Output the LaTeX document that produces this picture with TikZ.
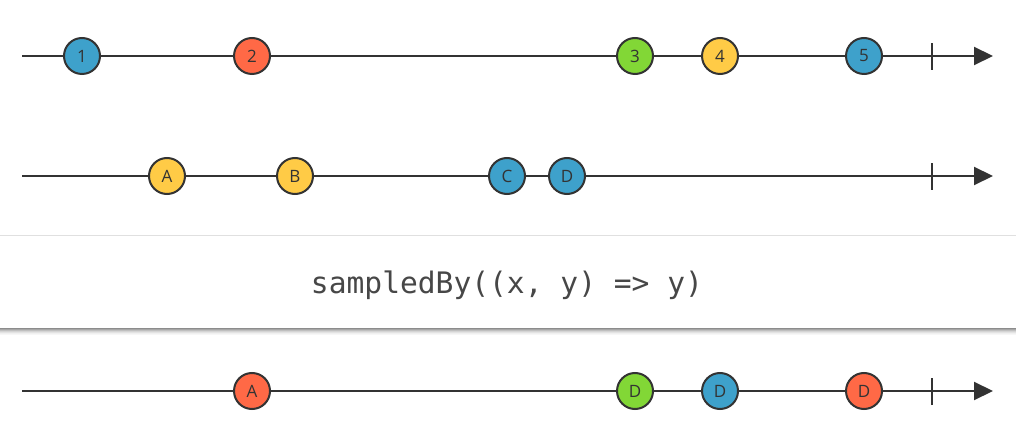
\documentclass[tikz,border=0pt]{standalone}
\usepackage{fontspec}
\setmainfont{Open Sans}
\newfontfamily\codefont{DejaVu Sans Mono}
\usetikzlibrary{arrows.meta}
\definecolor{mblue}{HTML}{3EA1CB}
\definecolor{mred}{HTML}{FF6946}
\definecolor{mgreen}{HTML}{82D736}
\definecolor{myellow}{HTML}{FFCB46}
\definecolor{ink}{HTML}{333333}
\tikzset{
  x=1pt, y=-1pt,
  timeline/.style={draw=ink, line width=2pt, -{Triangle[length=19pt,width=18pt]}},
  tick/.style={draw=ink, line width=2.5pt},
  marble/.style={circle, draw=ink, line width=2pt, minimum size=36pt, inner sep=0pt,
    text=ink, font=\fontsize{17}{17}\selectfont},
}
\begin{document}
\begin{tikzpicture}
\useasboundingbox (0,0) rectangle (1016,443);
% operator box
\fill[white] (0,235) rectangle (1016,328);
\foreach \i/\o in {1/0.35,2/0.25,3/0.17,4/0.11,5/0.06,6/0.03}{
  \draw[black, opacity=\o, line width=1pt] (0,328+\i) -- (1016,328+\i);
}
\draw[black!12, line width=1pt] (0,235.5) -- (1016,235.5);
\draw[black!45, line width=1pt] (0,328) -- (1016,328);
\node[font=\codefont\fontsize{29.6}{30}\selectfont, text=ink!90] (op) at (507,285) {sampledBy((x, y) => y)};
% row 1
\coordinate (s1) at (22,56); \coordinate (e1) at (993,56);
\draw[timeline] (s1) -- (e1);
\coordinate (t1) at (932,56);
\draw[tick] ([yshift=-14pt]t1) -- ([yshift=13pt]t1);
\node[marble, fill=mblue] (a1) at (82,56) {1};
\node[marble, fill=mred] (a2) at (252,56) {2};
\node[marble, fill=mgreen] (a3) at (635,56) {3};
\node[marble, fill=myellow] (a4) at (720,56) {4};
\node[marble, fill=mblue] (a5) at (864,56) {5};
% row 2
\coordinate (s2) at (22,176); \coordinate (e2) at (993,176);
\draw[timeline] (s2) -- (e2);
\coordinate (t2) at (932,176);
\draw[tick] ([yshift=-14pt]t2) -- ([yshift=13pt]t2);
\node[marble, fill=myellow] (bA) at (167,176) {A};
\node[marble, fill=myellow] (bB) at (295,176) {B};
\node[marble, fill=mblue] (bC) at (507,176) {C};
\node[marble, fill=mblue] (bD) at (567,176) {D};
% row 3
\coordinate (s3) at (22,391); \coordinate (e3) at (993,391);
\draw[timeline] (s3) -- (e3);
\coordinate (t3) at (932,391);
\draw[tick] ([yshift=-14pt]t3) -- ([yshift=13pt]t3);
\node[marble, fill=mred] (cA) at (252,391) {A};
\node[marble, fill=mgreen] (cD1) at (635,391) {D};
\node[marble, fill=mblue] (cD2) at (720,391) {D};
\node[marble, fill=mred] (cD3) at (864,391) {D};
\end{tikzpicture}
\end{document}
